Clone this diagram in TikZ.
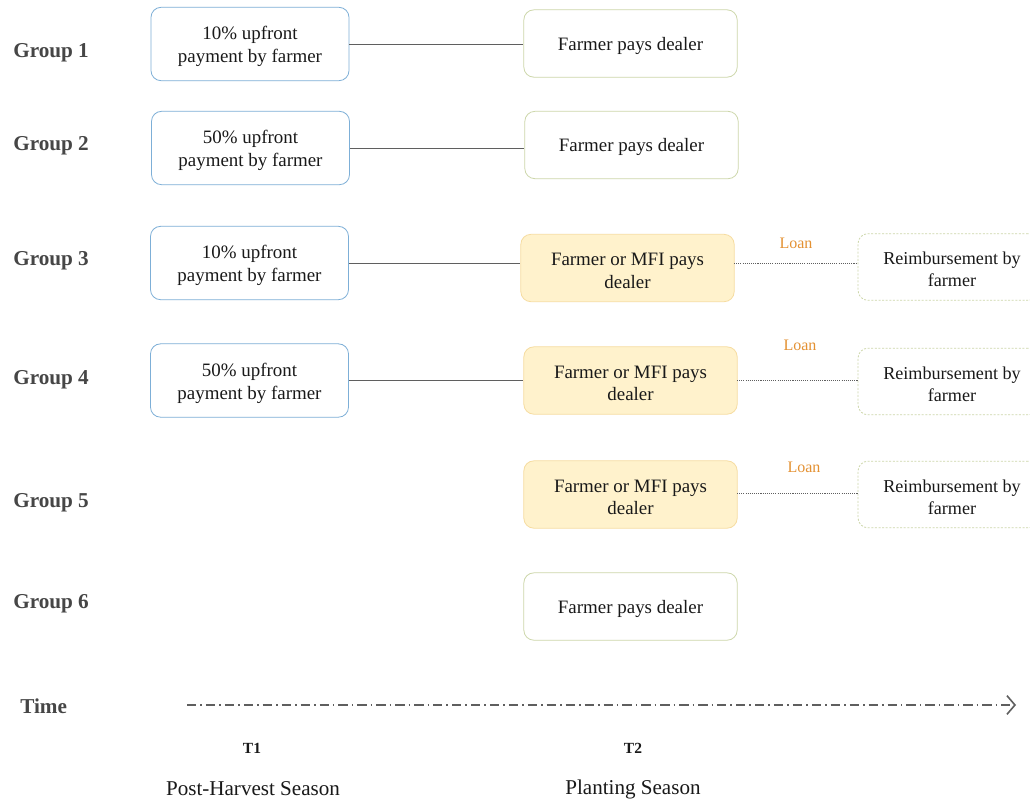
\documentclass[tikz,border=0pt]{standalone}
\usepackage{fontspec}
\setmainfont{Liberation Serif}
\usetikzlibrary{arrows.meta}
\definecolor{bluebd}{RGB}{125,175,215}
\definecolor{greenbd}{RGB}{205,215,170}
\definecolor{yelfill}{RGB}{255,242,204}
\definecolor{yelbd}{RGB}{240,205,130}
\definecolor{loanc}{RGB}{228,145,50}
\definecolor{txt}{RGB}{25,25,25}
\definecolor{grp}{RGB}{70,70,70}
\definecolor{linec}{RGB}{95,95,95}
\newcommand{\lowr}[2]{\raisebox{-#1}[\height][\depth]{#2}}
\tikzset{
  base/.style={rounded corners=7.5pt, align=center, text=txt, font=\fontsize{14.2}{17.3}\selectfont, line width=0.6pt, inner sep=0pt},
  leftbox/.style={base, draw=bluebd, minimum width=148.5pt, minimum height=55pt},
  rightbox/.style={base, draw=greenbd, minimum width=160pt, minimum height=50.5pt},
  yelbox/.style={base, draw=yelfill!40!yelbd, fill=yelfill, minimum width=160pt, minimum height=50.5pt},
  reimbbox/.style={base, draw=greenbd, dashed, dash pattern=on 1.5pt off 1.2pt, minimum width=135pt, minimum height=50pt, font=\fontsize{13.6}{16.8}\selectfont},
  grplabel/.style={anchor=west, text=grp, font=\fontsize{15.9}{18}\selectfont\bfseries, inner sep=0pt},
  conn/.style={draw=linec, line width=0.6pt},
  dotconn/.style={draw=linec, line width=0.6pt, dash pattern=on 0.8pt off 0.8pt},
  loanlbl/.style={text=loanc, font=\fontsize{12}{14}\selectfont, inner sep=0pt},
  tlbl/.style={text=txt, font=\fontsize{11.6}{14}\selectfont\bfseries, inner sep=0pt},
  season/.style={text=txt, font=\fontsize{15.8}{18}\selectfont, inner sep=0pt}
}
\begin{document}
\begin{tikzpicture}[x=0.75pt, y=-0.75pt]
\useasboundingbox[fill=white] (0,0) rectangle (1030,801);
% group labels
\node[grplabel] (g1) at (13,53) {Group 1};
\node[grplabel] (g2) at (13,146) {Group 2};
\node[grplabel] (g3) at (13,261) {Group 3};
\node[grplabel] (g4) at (13,380) {Group 4};
\node[grplabel] (g5) at (13,503) {Group 5};
\node[grplabel] (g6) at (13,604) {Group 6};
\node[grplabel] (time) at (20,706) {Time};
% left boxes
\node[leftbox] (l1) at (250,44) {\lowr{2pt}{\shortstack{10\% upfront\\[1pt]payment by farmer}}};
\node[leftbox] (l2) at (250.5,148) {\lowr{2pt}{\shortstack{50\% upfront\\[1pt]payment by farmer}}};
\node[leftbox] (l3) at (249.5,263) {\lowr{2pt}{\shortstack{10\% upfront\\[1pt]payment by farmer}}};
\node[leftbox] (l4) at (249.5,380.5) {\lowr{2pt}{\shortstack{50\% upfront\\[1pt]payment by farmer}}};
% right boxes
\node[rightbox] (r1) at (630.5,43.5) {\lowr{1.5pt}{Farmer pays dealer}};
\node[rightbox] (r2) at (631.5,145) {\lowr{1.5pt}{Farmer pays dealer}};
\node[yelbox] (r3) at (627.5,268) {\lowr{2pt}{\shortstack{Farmer or MFI pays\\[1pt]dealer}}};
\node[yelbox] (r4) at (630.5,380.5) {\lowr{2pt}{\shortstack{Farmer or MFI pays\\[1pt]dealer}}};
\node[yelbox] (r5) at (630.5,494.5) {\lowr{2pt}{\shortstack{Farmer or MFI pays\\[1pt]dealer}}};
\node[rightbox] (r6) at (630.5,606.5) {\lowr{1.5pt}{Farmer pays dealer}};
% reimbursement boxes
\node[reimbbox] (m3) at (948,267) {\hspace{6pt}\lowr{2pt}{\shortstack{Reimbursement by\\[1pt]farmer}}};
\node[reimbbox] (m4) at (948,381.5) {\hspace{6pt}\lowr{2pt}{\shortstack{Reimbursement by\\[1pt]farmer}}};
\node[reimbbox] (m5) at (948,494.5) {\hspace{6pt}\lowr{2pt}{\shortstack{Reimbursement by\\[1pt]farmer}}};
% connectors
\draw[conn] (l1.east) -- (l1.east -| r1.west);
\draw[conn] (l2.east) -- (l2.east -| r2.west);
\draw[conn] (l3.east) -- (l3.east -| r3.west);
\draw[conn] (l4.east) -- (l4.east -| r4.west);
\coordinate (d3) at (734,263);
\coordinate (d4) at (737,380);
\coordinate (d5) at (737,493);
\draw[dotconn] (d3) -- (d3 -| m3.west);
\draw[dotconn] (d4) -- (d4 -| m4.west);
\draw[dotconn] (d5) -- (d5 -| m5.west);
\node[loanlbl] (loan3) at (796,243) {Loan};
\node[loanlbl] (loan4) at (800,345) {Loan};
\node[loanlbl] (loan5) at (804,467) {Loan};
% time axis
\coordinate (ta) at (187,705);
\coordinate (tb) at (1016,705);
\draw[draw=linec, line width=1pt, dash pattern=on 7pt off 3pt on 1.2pt off 3pt, -{Straight Barb[length=6pt, width=14pt, line width=1.2pt]}] (ta) -- (tb);
\node[tlbl] (t1) at (252,748) {T1};
\node[tlbl] (t2) at (633,748) {T2};
\node[season] (s1) at (253,789) {Post-Harvest Season};
\node[season] (s2) at (633,789) {Planting Season};
\end{tikzpicture}
\end{document}
